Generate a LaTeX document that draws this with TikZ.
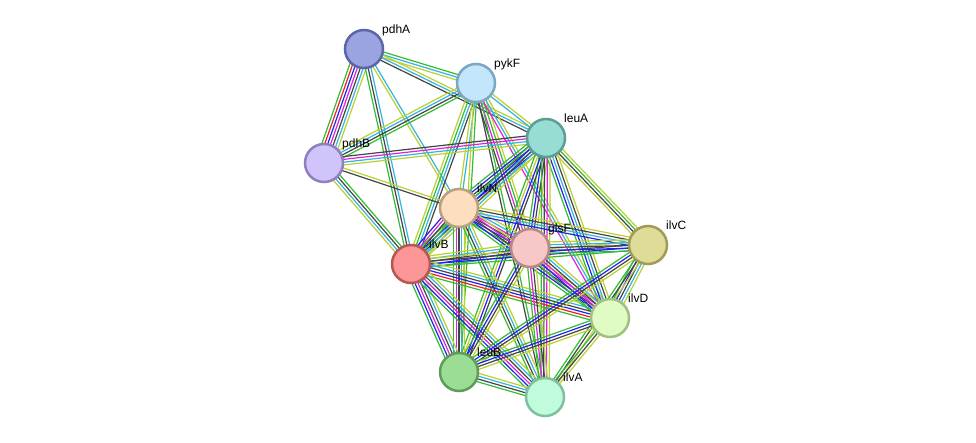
\documentclass[tikz,border=0pt]{standalone}
\usepackage{fontspec}
\setmainfont{Liberation Sans}
\usetikzlibrary{calc}
\pgfdeclarelayer{bg}
\pgfdeclarelayer{paper}
\pgfsetlayers{paper,bg,main}
\definecolor{cgreen}{HTML}{33BB33}
\definecolor{cred}{HTML}{EE2222}
\definecolor{cblue}{HTML}{2222EE}
\definecolor{cmag}{HTML}{DD22DD}
\definecolor{ccyan}{HTML}{33B5DD}
\definecolor{cyel}{HTML}{BBD033}
\definecolor{cblk}{HTML}{444444}
\tikzset{
  prot/.style={circle, minimum size=38pt, inner sep=0pt, line width=2.5pt},
  plabel/.style={anchor=base west, inner sep=0pt, font=\fontsize{12}{14}\selectfont, text=black},
  chan/.style={line width=1.2pt}
}
\newcommand{\pnode}[6]{%
  \definecolor{#1fill}{HTML}{#4}%
  \definecolor{#1line}{HTML}{#5}%
  \node[prot, fill=#1fill, draw=#1line] (#1) at (#2,#3) {};
  \node[plabel] (#1-l) at (#2+#6,#3-16) {#1};
}
\newcommand{\pedge}[4]{%
  \begin{pgfonlayer}{bg}
  \foreach \c [count=\i] in {#4} {
    \pgfmathsetmacro\off{(\i-(#3+1)/2)*2.8}
    \draw[chan, \c] ($(#1.center)!\off pt!90:(#2.center)$) -- ($(#2.center)!\off pt!-90:(#1.center)$);
  }
  \end{pgfonlayer}
}
\begin{document}
\begin{tikzpicture}[x=1pt, y=-1pt]
\begin{pgfonlayer}{paper}
\fill[white] (0,0) rectangle (976,442);
\end{pgfonlayer}
\useasboundingbox (0,0) rectangle (976,442);
\pnode{pdhA}{364}{49}{9BA3E0}{5A66A8}{18}
\pnode{pykF}{476}{83}{C3E6FA}{7BA7C4}{18}
\pnode{leuA}{546}{138}{98DDD4}{5B9E94}{18}
\pnode{pdhB}{324}{163}{D0C4FA}{9180C0}{18}
\pnode{ilvN}{459}{208}{FDDFC0}{B8A080}{18}
\pnode{ilvB}{411}{264}{FD9797}{B85555}{18}
\pnode{glsF}{530}{248}{F8C8C8}{B88888}{18}
\pnode{ilvC}{648}{245}{DEDC96}{A09C58}{18}
\pnode{ilvD}{610}{318}{E0FCC4}{A0C080}{18}
\pnode{leuB}{459}{372}{9CDD96}{5C9E58}{18}
\pnode{ilvA}{545}{397}{C0FCDC}{80C0A0}{18}
% edges
\pedge{pdhA}{pdhB}{7}{cgreen,cred,cblue,cmag,cblk,ccyan,cyel}
\pedge{pdhA}{ilvB}{3}{cgreen,cblk,ccyan}
\pedge{pdhA}{ilvN}{2}{cyel,ccyan}
\pedge{pdhA}{pykF}{3}{cyel,ccyan,cgreen}
\pedge{pdhA}{leuA}{3}{cblk,ccyan,cyel}
\pedge{pykF}{pdhB}{4}{cyel,ccyan,cblk,cgreen}
\pedge{pykF}{leuA}{2}{ccyan,cyel}
\pedge{pykF}{ilvB}{4}{cyel,cgreen,ccyan,cblk}
\pedge{pykF}{ilvN}{2}{cyel,ccyan}
\pedge{pykF}{glsF}{4}{cblk,cmag,cgreen,cyel}
\pedge{pykF}{ilvD}{3}{cmag,ccyan,cyel}
\pedge{pykF}{leuB}{2}{cyel,cgreen}
\pedge{pykF}{ilvA}{2}{cblk,cgreen}
\pedge{leuA}{pdhB}{4}{cblk,cmag,ccyan,cyel}
\pedge{leuA}{ilvN}{6}{cgreen,cblue,cblk,ccyan,cblue,cyel}
\pedge{leuA}{ilvB}{5}{cgreen,cblue,cblk,ccyan,cyel}
\pedge{leuA}{glsF}{4}{cgreen,cblue,cblk,cyel}
\pedge{leuA}{ilvC}{4}{cyel,cblk,cgreen,cyel}
\pedge{leuA}{ilvD}{5}{cgreen,cblue,ccyan,cblk,cyel}
\pedge{leuA}{leuB}{4}{cgreen,cyel,cblue,cblk}
\pedge{leuA}{ilvA}{4}{cgreen,cblk,cmag,cyel}
\pedge{pdhB}{ilvB}{4}{cyel,ccyan,cblk,cgreen}
\pedge{pdhB}{ilvN}{2}{cblk,cyel}
\pedge{ilvN}{ilvB}{6}{cblue,cmag,cblk,cgreen,ccyan,cyel}
\pedge{ilvN}{glsF}{6}{cgreen,cblue,cblk,cmag,ccyan,cyel}
\pedge{ilvN}{ilvC}{4}{cblue,ccyan,cblk,cyel}
\pedge{ilvN}{ilvD}{5}{cgreen,cblue,cblk,cmag,cyel}
\pedge{ilvN}{leuB}{5}{cgreen,cmag,cblk,ccyan,cyel}
\pedge{ilvN}{ilvA}{4}{cgreen,cblk,ccyan,cyel}
\pedge{ilvB}{glsF}{5}{cgreen,cblue,cblk,ccyan,cyel}
\pedge{ilvB}{ilvC}{4}{cgreen,cblue,cblk,cyel}
\pedge{ilvB}{ilvD}{6}{cgreen,cred,cblue,cblk,ccyan,cyel}
\pedge{ilvB}{leuB}{6}{cgreen,cblue,cmag,cblk,ccyan,cyel}
\pedge{ilvB}{ilvA}{6}{cgreen,cblue,cmag,cblk,ccyan,cyel}
\pedge{glsF}{ilvC}{5}{cgreen,cblue,cblk,ccyan,cyel}
\pedge{glsF}{ilvD}{6}{cgreen,cblue,cmag,cblk,ccyan,cyel}
\pedge{glsF}{leuB}{4}{cgreen,cblue,cblk,cyel}
\pedge{glsF}{ilvA}{4}{cgreen,cmag,cblk,cyel}
\pedge{ilvC}{ilvD}{5}{cgreen,cblue,cblk,ccyan,cyel}
\pedge{ilvC}{leuB}{4}{cgreen,cblue,cblk,cyel}
\pedge{ilvC}{ilvA}{3}{cgreen,cblk,cyel}
\pedge{ilvD}{leuB}{4}{cgreen,cblue,cblk,cyel}
\pedge{ilvD}{ilvA}{3}{cgreen,cblk,cyel}
\pedge{leuB}{ilvA}{4}{cgreen,cblk,ccyan,cyel}
\end{tikzpicture}
\end{document}
